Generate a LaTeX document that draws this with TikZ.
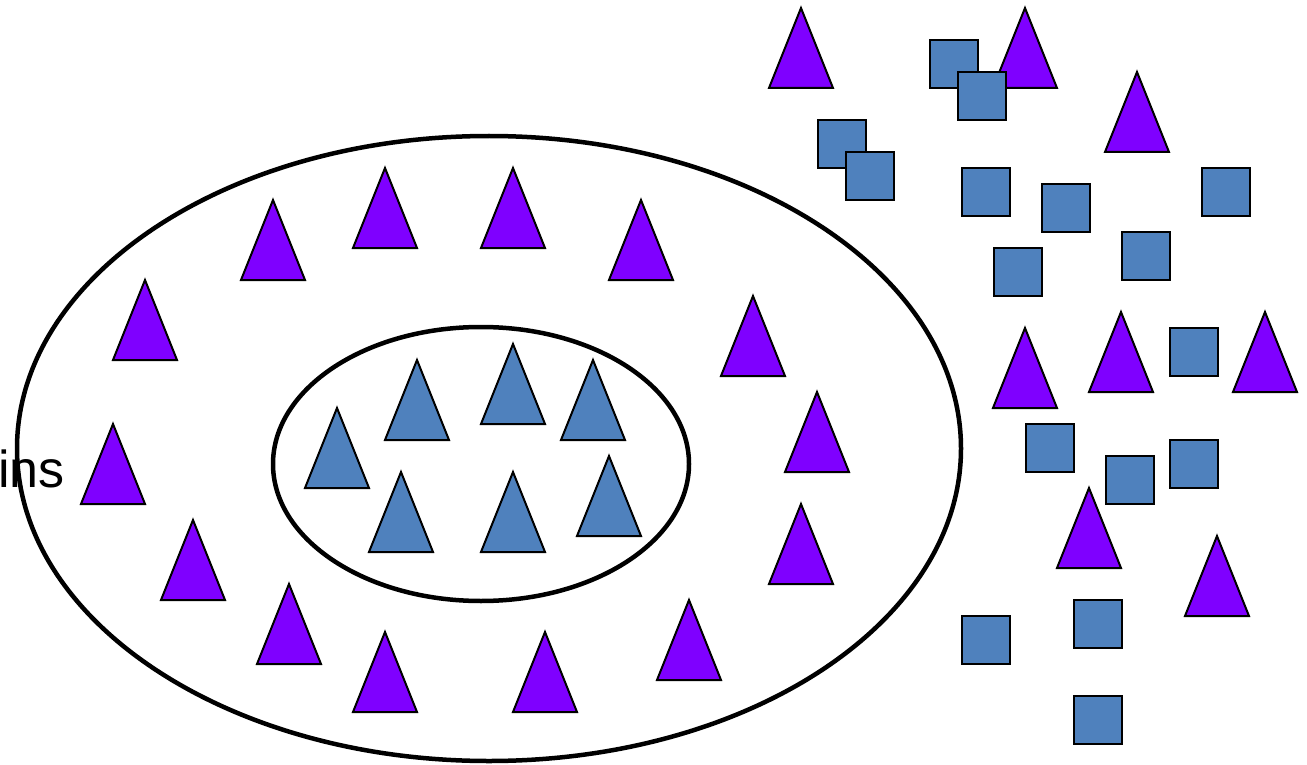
\documentclass[tikz,border=0pt]{standalone}
\usepackage{fontspec}
\setmainfont{Liberation Sans}
\definecolor{violetfill}{RGB}{127,0,255}
\definecolor{bluefill}{RGB}{79,129,189}
\tikzset{
  shapeline/.style={draw=black, line width=2pt, line join=miter},
  ring/.style={draw=black, line width=4.5pt},
  pics/tri/.style={code={\path[shapeline, fill=#1] (0,0) -- (-32,80) -- (32,80) -- cycle;}},
  pics/sq/.style={code={\path[shapeline, fill=bluefill] (0,0) rectangle (48,48);}}
}
\begin{document}
\begin{tikzpicture}[x=1pt, y=-1pt]
\useasboundingbox (0,0) rectangle (1307,765);
\clip (0,0) rectangle (1307,765);
\fill[white] (0,0) rectangle (1307,765);

% label partly cut by the left edge
\node[inner sep=0pt, anchor=base east, font=\fontsize{52}{60}\selectfont] (lbl) at (65,487) {ins};

% outer and inner sets
\path[ring] (489,448.5) ellipse [x radius=472, y radius=312.5];
\path[ring] (481,464) ellipse [x radius=208, y radius=137];

% violet triangles (apex positions)
\foreach \x/\y in {801/8, 1025/8, 1137/72, 273/200, 385/168, 513/168, 641/200,
                   145/280, 753/296, 113/424, 817/392, 193/520, 289/584, 385/632,
                   545/632, 689/600, 801/504, 1025/328, 1121/312, 1265/312,
                   1089/488, 1217/536}
  \pic at (\x,\y) {tri=violetfill};

% blue triangles inside the inner set
\foreach \x/\y in {337/408, 417/360, 513/344, 593/360, 401/472, 513/472, 609/456}
  \pic at (\x,\y) {tri=bluefill};

% blue squares (top-left corners)
\foreach \x/\y in {930/40, 958/72, 818/120, 846/152, 962/168, 1042/184, 1202/168,
                   994/248, 1122/232, 1170/328, 1026/424, 1106/456, 1170/440,
                   962/616, 1074/600, 1074/696}
  \pic at (\x,\y) {sq};
\end{tikzpicture}
\end{document}
